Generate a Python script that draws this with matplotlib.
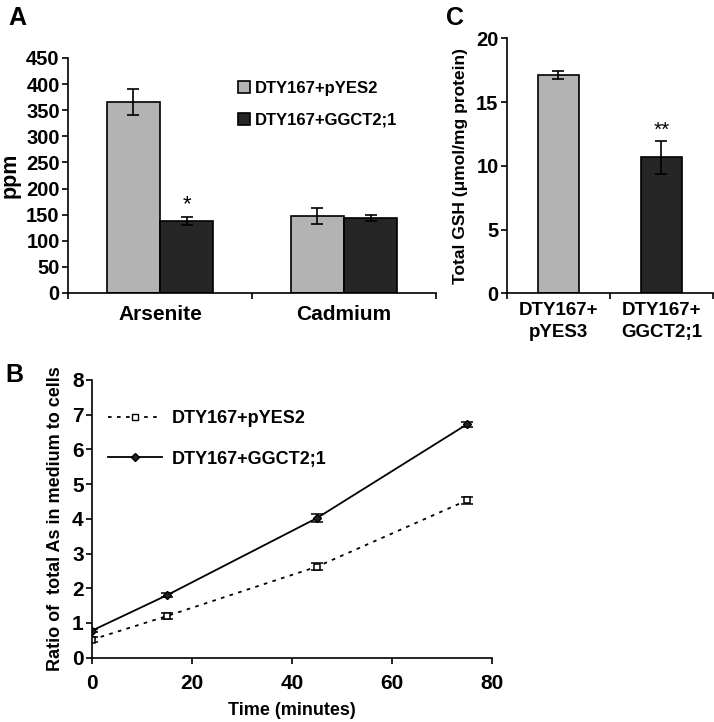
import numpy as np
import matplotlib
matplotlib.use("Agg")
import matplotlib.pyplot as plt
from matplotlib.lines import Line2D

plt.rcParams['font.family'] = ['Liberation Sans', 'DejaVu Sans']
plt.rcParams['font.weight'] = 'bold'

# --- Panel A data ---
metals = ["Arsenite", "Cadmium"]
ppm_pyes2 = [366, 148]
ppm_pyes2_err = [25, 15]
ppm_ggct = [138, 143]
ppm_ggct_err = [8, 6]

# --- Panel B data ---
time_min = [0, 15, 45, 75]
ratio_pyes2 = [0.52, 1.2, 2.62, 4.53]
ratio_pyes2_err = [0.08, 0.1, 0.1, 0.1]
ratio_ggct = [0.78, 1.8, 4.02, 6.72]
ratio_ggct_err = [0.05, 0.06, 0.12, 0.06]

# --- Panel C data ---
strains = ["DTY167+\npYES3", "DTY167+\nGGCT2;1"]
gsh = [17.1, 10.65]
gsh_err = [0.3, 1.3]

light = '#b3b3b3'
dark = '#262626'


def style_axes(ax, labelsize=14):
    for side in ['top', 'right']:
        ax.spines[side].set_visible(False)
    for side in ['left', 'bottom']:
        ax.spines[side].set_linewidth(1.2)
    ax.tick_params(width=1.2, length=4, pad=2, labelsize=labelsize, direction='out')
    for lab in ax.get_xticklabels() + ax.get_yticklabels():
        lab.set_fontweight('bold')


fig = plt.figure(figsize=(7.14, 7.22), dpi=100)
errkw = dict(elinewidth=1.2, capthick=1.2)

# ---------------- Panel A ----------------
axA = fig.add_axes([0.0952, 0.5942, 0.5154, 0.3255])
x = np.arange(len(metals))
w = 0.29
axA.bar(x - w / 2, ppm_pyes2, w, yerr=ppm_pyes2_err, color=light, edgecolor='black',
        linewidth=1.2, capsize=4.5, error_kw=errkw, label="DTY167+pYES2")
axA.bar(x + w / 2, ppm_ggct, w, yerr=ppm_ggct_err, color=dark, edgecolor='black',
        linewidth=1.2, capsize=4.5, error_kw=errkw, label="DTY167+GGCT2;1")
axA.text(x[0] + w / 2, ppm_ggct[0] + ppm_ggct_err[0] + 3, "*", ha='center', va='bottom',
         fontsize=16, fontweight='normal')
axA.set_xlim(-0.5, 1.5)
axA.set_ylim(0, 450)
axA.set_yticks(np.arange(0, 451, 50))
axA.set_xticks([-0.5, 0.5, 1.5])
axA.set_xticklabels([])
axA.set_xticks(x, minor=True)
axA.set_xticklabels(metals, minor=True)
style_axes(axA, 14.5)
axA.tick_params(axis='x', which='minor', length=0, pad=9)
for lab in axA.get_xticklabels(minor=True):
    lab.set_fontweight('bold')
    lab.set_fontsize(15)
axA.set_ylabel("ppm", fontsize=15.5, fontweight='bold', labelpad=4)
axA.legend(loc='upper left', bbox_to_anchor=(0.42, 0.965), frameon=False, fontsize=12,
           handlelength=0.75, handleheight=0.75, handletextpad=0.3, labelspacing=1.0)

# ---------------- Panel C ----------------
axC = fig.add_axes([0.710, 0.5938, 0.2885, 0.3532])
xc = np.arange(len(strains))
wc = 0.39
axC.bar(xc, gsh, wc, yerr=gsh_err, color=[light, dark], edgecolor='black', linewidth=1.2,
        capsize=4.5, error_kw=errkw)
axC.text(xc[1], gsh[1] + gsh_err[1] + 0.05, "**", ha='center', va='bottom',
         fontsize=15, fontweight='normal')
axC.set_xlim(-0.5, 1.5)
axC.set_ylim(0, 20)
axC.set_yticks(np.arange(0, 21, 5))
axC.set_xticks([-0.5, 0.5, 1.5])
axC.set_xticklabels([])
axC.set_xticks(xc, minor=True)
axC.set_xticklabels(strains, minor=True)
style_axes(axC, 14.5)
axC.tick_params(axis='x', which='minor', length=0, pad=6)
for lab in axC.get_xticklabels(minor=True):
    lab.set_fontweight('bold')
    lab.set_fontsize(13.5)
    lab.set_linespacing(1.4)
axC.set_ylabel("Total GSH (\u03bcmol/mg protein)", fontsize=12.5, fontweight='bold', labelpad=6)

# ---------------- Panel B ----------------
axB = fig.add_axes([0.1289, 0.0891, 0.5598, 0.3846])
axB.errorbar(time_min, ratio_pyes2, yerr=ratio_pyes2_err, color='black', linestyle=(0, (2, 3)),
             linewidth=1.3, marker='s', markersize=5, markerfacecolor='white',
             markeredgecolor='black', markeredgewidth=1.1, capsize=4, elinewidth=1.1,
             capthick=1.1, label="DTY167+pYES2")
axB.errorbar(time_min, ratio_ggct, yerr=ratio_ggct_err, color='black', linestyle='-',
             linewidth=1.3, marker='D', markersize=4, markerfacecolor='#222222',
             markeredgecolor='black', capsize=4, elinewidth=1.1, capthick=1.1,
             label="DTY167+GGCT2;1")
axB.set_xlim(0, 80)
axB.set_ylim(0, 8)
axB.set_xticks(np.arange(0, 81, 20))
axB.set_yticks(np.arange(0, 9, 1))
style_axes(axB, 15)
axB.tick_params(axis='x', pad=8)
axB.set_xlabel("Time (minutes)", fontsize=13, fontweight='bold', labelpad=6)
axB.set_ylabel("Ratio of  total As in medium to cells", fontsize=13, fontweight='bold', labelpad=6)
handles = [Line2D([], [], color='black', linestyle=(0, (2, 3)), linewidth=1.3, marker='s',
                  markersize=5, markerfacecolor='white', markeredgecolor='black'),
           Line2D([], [], color='black', linestyle='-', linewidth=1.3, marker='D',
                  markersize=4, markerfacecolor='#222222', markeredgecolor='black')]
axB.legend(handles, ["DTY167+pYES2", "DTY167+GGCT2;1"], loc='upper left',
           bbox_to_anchor=(0.0, 0.95), frameon=False, fontsize=13, handlelength=3.0,
           handletextpad=0.5, labelspacing=1.3)

# panel letters
fig.text(0.012, 0.975, "A", fontsize=18, fontweight='bold', va='center')
fig.text(0.625, 0.975, "C", fontsize=18, fontweight='bold', va='center')
fig.text(0.008, 0.48, "B", fontsize=18, fontweight='bold', va='center')

fig.savefig("out.png", dpi=100)
